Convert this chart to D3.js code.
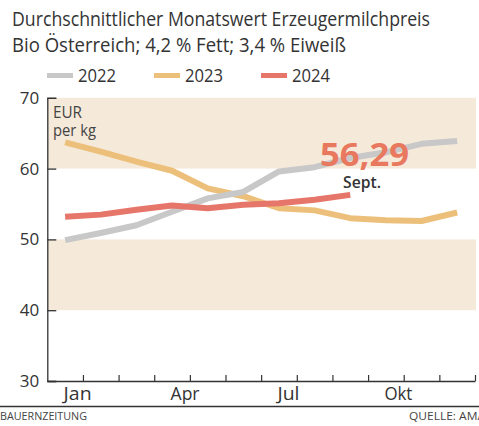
<!DOCTYPE html>
<html>
<head>
<meta charset="utf-8">
<script src="https://cdn.jsdelivr.net/npm/d3@7"></script>
<style>
  body { margin: 0; background: #fff; }
  svg { display: block; font-family: "Open Sans", sans-serif; }
</style>
</head>
<body>
<div id="chart"></div>
<script>
var months = ["Jan", "Feb", "Mär", "Apr", "Mai", "Jun", "Jul", "Aug", "Sep", "Okt", "Nov", "Dez"];
var labelMonths = ["Jan", "Apr", "Jul", "Okt"];
var years = ["2022", "2023", "2024"];
var v2022 = [49.9, 50.9, 52.0, 53.9, 55.8, 56.7, 59.6, 60.2, 61.5, 62.3, 63.5, 63.9];
var v2023 = [63.7, 62.4, 61.0, 59.7, 57.2, 56.1, 54.4, 54.1, 53.0, 52.7, 52.6, 53.8];
var v2024 = [53.2, 53.5, 54.2, 54.8, 54.4, 54.9, 55.1, 55.6, 56.29];
var yTicks = [30, 40, 50, 60, 70];
var bands = [[40, 50], [60, 70]];
var colors = ["#c8c8c8", "#ecc07a", "#e6756a"];

draw();

function draw() {
  var width = 479;
  var height = 426;
  var left = 47.3, right = 475, top = 97.8, bottom = 381;

  var svg = d3.select("#chart")
    .append("svg")
    .attr("width", width)
    .attr("height", height);

  // month index scale, points sit in the middle of each month
  var x = d3.scaleLinear().domain([0, 12]).range([left, right]);
  var y = d3.scaleLinear().domain([30, 70]).range([bottom, top]);

  function fit(sel, w) {
    sel.attr("textLength", w).attr("lengthAdjust", "spacingAndGlyphs");
  }

  // title
  svg.append("text")
    .attr("x", 12).attr("y", 26)
    .attr("fill", "#333").style("font-size", "19.5px")
    .text("Durchschnittlicher Monatswert Erzeugermilchpreis")
    .call(fit, 418);
  svg.append("text")
    .attr("x", 12).attr("y", 52)
    .attr("fill", "#333").style("font-size", "19.5px")
    .text("Bio Österreich; 4,2 % Fett; 3,4 % Eiweiß")
    .call(fit, 334);

  // legend
  var legend = svg.selectAll("g.legend")
    .data(years)
    .enter()
    .append("g")
    .attr("class", "legend")
    .attr("transform", function (d, i) { return "translate(" + (47 + i * 107) + ",0)"; });
  legend.append("rect")
    .attr("y", 73).attr("width", 26).attr("height", 5)
    .attr("fill", function (d, i) { return colors[i]; });
  legend.append("text")
    .attr("x", 31).attr("y", 82)
    .attr("fill", "#333").style("font-size", "18px")
    .text(function (d) { return d; })
    .call(fit, 38);

  // background bands
  svg.selectAll("rect.band")
    .data(bands)
    .enter()
    .append("rect")
    .attr("class", "band")
    .attr("fill", "#f5e9da")
    .attr("x", left)
    .attr("width", right + 1 - left)
    .attr("y", function (d) { return y(d[1]); })
    .attr("height", function (d) { return y(d[0]) - y(d[1]); });

  // axes
  var yAxis = svg.append("g")
    .attr("transform", "translate(" + left + ",0)")
    .call(d3.axisLeft(y).tickValues(yTicks).tickSize(-9).tickPadding(8));
  yAxis.select(".domain").attr("stroke", "#333").attr("stroke-width", 1.3);
  yAxis.selectAll(".tick line").attr("stroke", "#333").attr("stroke-width", 1.3);
  yAxis.selectAll(".tick text")
    .attr("fill", "#333").style("font-size", "17px")
    .style("font-family", "Open Sans, sans-serif");

  var xAxis = svg.append("g")
    .attr("transform", "translate(0," + bottom + ")")
    .call(d3.axisBottom(x).tickValues(d3.range(1, 13)).tickSize(-6).tickSizeOuter(0).tickFormat(""));
  xAxis.select(".domain").attr("stroke", "#333").attr("stroke-width", 1.3);
  xAxis.selectAll(".tick line").attr("stroke", "#333").attr("stroke-width", 1.2);

  svg.selectAll("text.month")
    .data(labelMonths)
    .enter()
    .append("text")
    .attr("class", "month")
    .attr("x", function (d) { return x(months.indexOf(d) + 0.5) - 1.5; })
    .attr("y", 400)
    .attr("fill", "#333").style("font-size", "18.5px")
    .text(function (d) { return d; })
    .each(function (d) {
      d3.select(this).call(fit, { Jan: 28, Apr: 29, Jul: 22, Okt: 28 }[d]);
    });

  // unit label
  svg.append("text")
    .attr("x", 53).attr("y", 118)
    .attr("fill", "#444").style("font-size", "16px")
    .text("EUR")
    .call(fit, 29);
  svg.append("text")
    .attr("x", 53).attr("y", 136)
    .attr("fill", "#444").style("font-size", "16px")
    .text("per kg")
    .call(fit, 43);

  // lines
  var line = d3.line()
    .x(function (d, i) { return x(i + 0.5); })
    .y(function (d) { return y(d); });

  svg.selectAll("path.series")
    .data([v2023, v2022, v2024])
    .enter()
    .append("path")
    .attr("class", "series")
    .attr("fill", "none")
    .attr("stroke", function (d, i) { return [colors[1], colors[0], colors[2]][i]; })
    .attr("stroke-width", 6)
    .attr("stroke-linejoin", "round")
    .attr("d", line);

  // last value label
  svg.append("text")
    .attr("x", 320).attr("y", 166)
    .attr("fill", "#e8785e")
    .style("font-size", "33px").style("font-weight", "bold")
    .text("56,29")
    .call(fit, 89);
  svg.append("text")
    .attr("x", 343).attr("y", 188)
    .attr("fill", "#333")
    .style("font-size", "16px").style("font-weight", "600")
    .text("Sept.")
    .call(fit, 38);

  // footer
  svg.append("line")
    .attr("x1", 0).attr("x2", width)
    .attr("y1", 406.5).attr("y2", 406.5)
    .attr("stroke", "#333").attr("stroke-width", 1.5);
  svg.append("text")
    .attr("x", 0).attr("y", 420)
    .attr("fill", "#444").style("font-size", "11px")
    .text("BAUERNZEITUNG")
    .call(fit, 87);
  svg.append("text")
    .attr("x", 409).attr("y", 420)
    .attr("fill", "#444").style("font-size", "11px")
    .text("QUELLE: AMA")
    .call(fit, 76);
}
</script>
</body>
</html>
